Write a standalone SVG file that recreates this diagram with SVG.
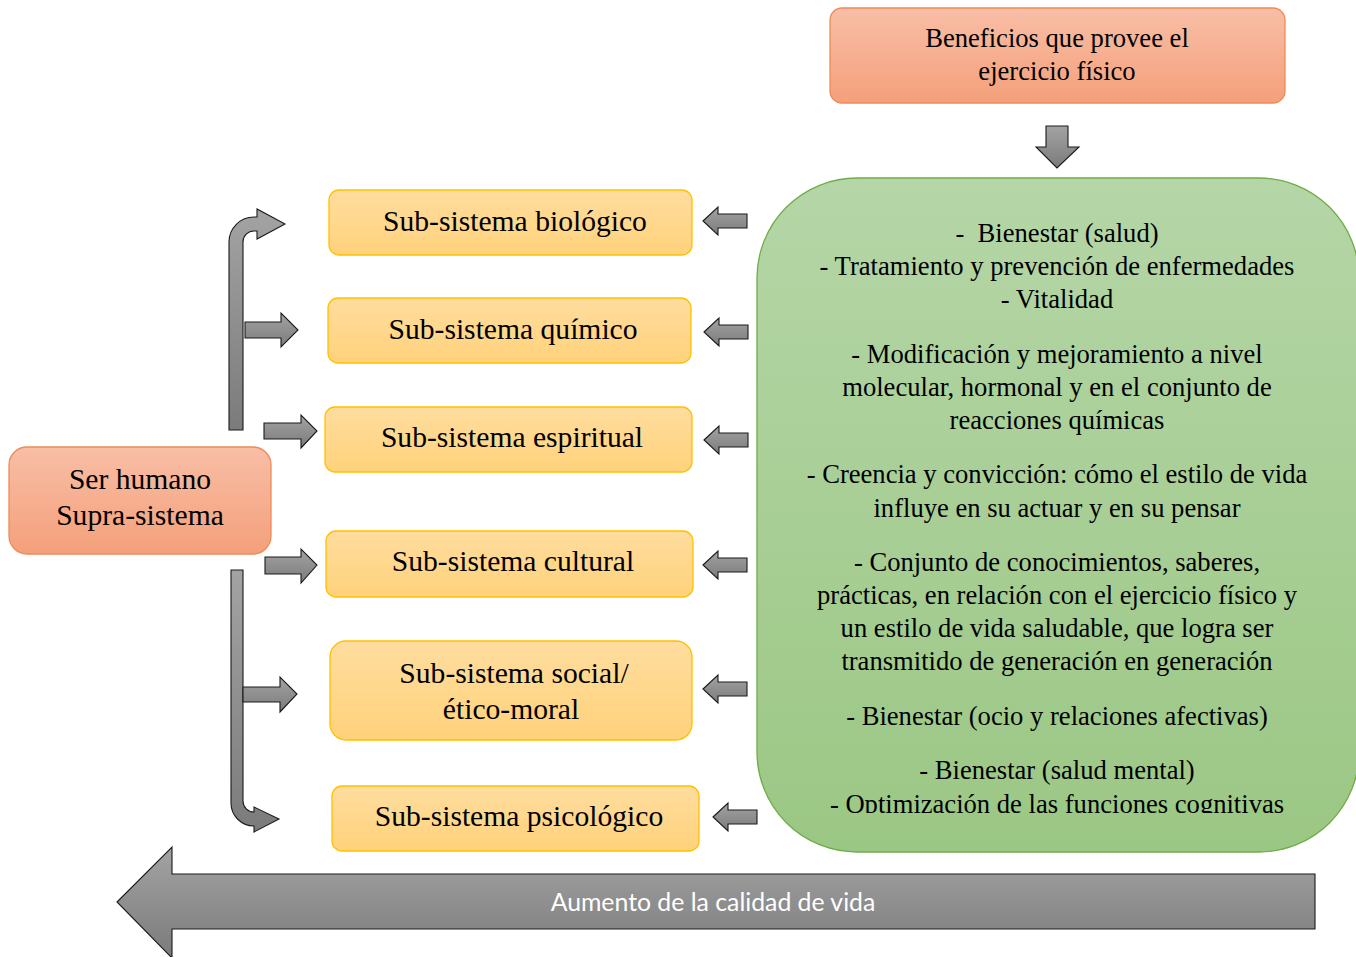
<svg xmlns="http://www.w3.org/2000/svg" width="1356" height="957" viewBox="0 0 1356 957">
<defs>
<linearGradient id="gOr" x1="0" y1="0" x2="0" y2="1"><stop offset="0" stop-color="#f8bea6"/><stop offset="1" stop-color="#f4a07a"/></linearGradient>
<linearGradient id="gYe" x1="0" y1="0" x2="0" y2="1"><stop offset="0" stop-color="#ffdd9f"/><stop offset="1" stop-color="#ffd27b"/></linearGradient>
<linearGradient id="gGr" x1="0" y1="0" x2="0" y2="1"><stop offset="0" stop-color="#b5d6a7"/><stop offset="1" stop-color="#9bc784"/></linearGradient>
<linearGradient id="gGy" x1="0" y1="0" x2="0" y2="1"><stop offset="0" stop-color="#a3a3a3"/><stop offset="1" stop-color="#7b7b7b"/></linearGradient>
<path id="larrow" d="M0,0 L15,-14 V-7 H44 V7 H15 V14 Z"/>
<clipPath id="clipG"><rect x="757" y="178" width="600" height="635"/></clipPath>
</defs>
<style>
.or{fill:url(#gOr);stroke:#f08a58;stroke-width:1.3}
.ye{fill:url(#gYe);stroke:#ffc000;stroke-width:1.3}
.gr{fill:url(#gGr);stroke:#70ad47;stroke-width:1.3}
.ar{fill:url(#gGy);stroke:#1a1a1a;stroke-width:1.1}
.t{font-family:"Liberation Serif","Times New Roman",serif;fill:#000;text-anchor:middle;white-space:pre}
.t29{font-size:29.6px}
.t26{font-size:26.6px}
.w{font-family:Lato,"Liberation Sans",sans-serif;font-size:24.8px;fill:#fff;text-anchor:middle}
</style>

<g id="beneficios">
<rect class="or" x="830" y="8" width="455" height="95" rx="12"/>
<text class="t t26" x="1057" y="47">Beneficios que provee el</text>
<text class="t t26" x="1057" y="80">ejercicio físico</text>
</g>

<g id="efectos">
<rect class="gr" x="757" y="178" width="602" height="674" rx="100"/>
<g clip-path="url(#clipG)">
<text class="t t26" x="1057" y="242" xml:space="preserve">-  Bienestar (salud)</text>
<text class="t t26" x="1057" y="275">- Tratamiento y prevención de enfermedades</text>
<text class="t t26" x="1057" y="308">- Vitalidad</text>
<text class="t t26" x="1057" y="363">- Modificación y mejoramiento a nivel</text>
<text class="t t26" x="1057" y="396">molecular, hormonal y en el conjunto de</text>
<text class="t t26" x="1057" y="429">reacciones químicas</text>
<text class="t t26" x="1057" y="483">- Creencia y convicción: cómo el estilo de vida</text>
<text class="t t26" x="1057" y="517">influye en su actuar y en su pensar</text>
<text class="t t26" x="1057" y="571">- Conjunto de conocimientos, saberes,</text>
<text class="t t26" x="1057" y="604">prácticas, en relación con el ejercicio físico y</text>
<text class="t t26" x="1057" y="637">un estilo de vida saludable, que logra ser</text>
<text class="t t26" x="1057" y="670">transmitido de generación en generación</text>
<text class="t t26" x="1057" y="725">- Bienestar (ocio y relaciones afectivas)</text>
<text class="t t26" x="1057" y="779">- Bienestar (salud mental)</text>
<text class="t t26" x="1057" y="813">- Optimización de las funciones cognitivas</text>
</g>
</g>

<g id="ser-humano">
<rect class="or" x="9" y="447" width="262" height="107" rx="18"/>
<text class="t t29" x="140" y="489">Ser humano</text>
<text class="t t29" x="140" y="525">Supra-sistema</text>
</g>

<g id="biologico">
<rect class="ye" x="329" y="190" width="363" height="65" rx="10"/>
<text class="t t29" x="515" y="231">Sub-sistema biológico</text>
</g>
<g id="quimico">
<rect class="ye" x="328" y="298" width="363" height="65" rx="10"/>
<text class="t t29" x="513" y="339">Sub-sistema químico</text>
</g>
<g id="espiritual">
<rect class="ye" x="325" y="407" width="367" height="65" rx="10"/>
<text class="t t29" x="512" y="447">Sub-sistema espiritual</text>
</g>
<g id="cultural">
<rect class="ye" x="326" y="531" width="367" height="66" rx="10"/>
<text class="t t29" x="513" y="571">Sub-sistema cultural</text>
</g>
<g id="social">
<rect class="ye" x="330" y="641" width="362" height="99" rx="16"/>
<text class="t t29" x="514" y="683">Sub-sistema social/</text>
<text class="t t29" x="511" y="719">ético-moral</text>
</g>
<g id="psicologico">
<rect class="ye" x="332" y="786" width="367" height="65" rx="10"/>
<text class="t t29" x="519" y="826">Sub-sistema psicológico</text>
</g>

<g id="connectors">
<path class="ar" d="M1046,126 H1068 V147 H1079 L1057,168 L1036,147 H1046 Z"/>
<use href="#larrow" class="ar" x="703" y="221"/>
<use href="#larrow" class="ar" x="704" y="332"/>
<use href="#larrow" class="ar" x="704" y="440"/>
<use href="#larrow" class="ar" x="703" y="565"/>
<use href="#larrow" class="ar" x="703" y="689"/>
<use href="#larrow" class="ar" x="713" y="817"/>
<path class="ar" d="M229,430 V242 A25,25 0 0 1 254,217 H257 V209 L285,224 L257,239 V231 H254 A11,11 0 0 0 243,242 V430 Z"/>
<path class="ar" d="M245,322 H281 V313 L298,330 L281,347 V338 H245 Z"/>
<path class="ar" d="M264,423 H301 V415 L317,431 L301,448 V439 H264 Z"/>
<path class="ar" d="M265,557 H301 V549 L317,565 L301,583 V574 H265 Z"/>
<path class="ar" d="M231,570 H243 V801 A11,11 0 0 0 254,812 V807 L279,819 L254,832 V826 A23,23 0 0 1 231,803 Z"/>
<path class="ar" d="M243,687 H280 V677 L297,694 L280,712 V702 H243 Z"/>
</g>

<g id="calidad-de-vida">
<path class="ar" d="M117,902 L172,847 V874 H1315 V929 H172 V958 Z"/>
<text class="w" x="713" y="911">Aumento de la calidad de vida</text>
</g>
</svg>
